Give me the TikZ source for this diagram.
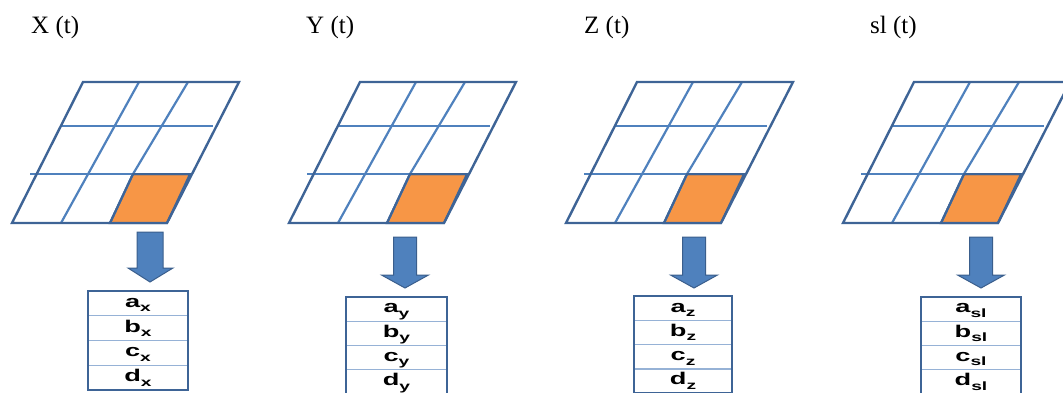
\documentclass[tikz,border=0pt]{standalone}
\usepackage{fontspec}
\setmainfont{Liberation Serif}
\setsansfont{Liberation Sans}
\newfontfamily\cellfont[FakeStretch=1.6]{Liberation Sans Bold}
\definecolor{gridouter}{RGB}{62,100,150}
\definecolor{gridinner}{RGB}{79,129,189}
\definecolor{cellfill}{RGB}{247,150,70}
\definecolor{arrowfill}{RGB}{79,129,189}
\definecolor{arrowline}{RGB}{58,94,140}
\definecolor{rowline}{RGB}{150,178,214}
\tikzset{
  outerline/.style={draw=gridouter, line width=2.4pt, line join=miter},
  innerline/.style={draw=gridinner, line width=2.2pt},
  hotcell/.style={fill=cellfill, draw=gridouter, line width=2pt},
  blockarrow/.style={fill=arrowfill, draw=arrowline, line width=1pt, line join=miter},
  tableframe/.style={draw=gridouter, line width=2pt, fill=white},
  tablerow/.style={draw=rowline, line width=1.4pt},
  celltext/.style={font=\cellfont\fontsize{17}{17}\selectfont, inner sep=0pt, anchor=base},
  titletext/.style={font=\fontsize{25}{25}\selectfont, inner sep=0pt, anchor=base west}
}
\newcommand\mysub[1]{\raisebox{-4.5pt}{\fontsize{12}{12}\selectfont #1}}
\newcommand\mytable[6]{%
  % #1 name, #2 left, #3 top, #4 right, #5 row height, #6 subscript
  \pgfmathsetmacro\tbot{#3+4*#5}%
  \pgfmathsetmacro\tmid{(#2+#4)/2}%
  \node[tableframe, inner sep=0pt, fit={(#2,#3) (#4,\tbot)}] (#1) {};
  \foreach \r in {1,2,3} {
    \pgfmathsetmacro\ry{#3+\r*#5}
    \draw[tablerow] (#2+1,\ry) -- (#4-1,\ry);
  }
  \draw[tableframe, fill=none] (#2,#3) rectangle (#4,\tbot);
  \foreach \l [count=\i from 0] in {a,b,c,d} {
    \pgfmathsetmacro\by{#3+\i*#5+0.66*#5}
    \node[celltext] (#1-\l) at (\tmid,\by) {\l\mysub{#6}};
  }
}
\usetikzlibrary{fit}
\begin{document}
\begin{tikzpicture}[x=1pt,y=-1pt]
\useasboundingbox (0,0) rectangle (1063,392);
\clip (0,0) rectangle (1063,392);

% titles
\node[titletext] (tx) at (31,33) {X (t)};
\node[titletext] (ty) at (306,33) {Y (t)};
\node[titletext] (tz) at (584,33) {Z (t)};
\node[titletext] (tsl) at (870,33) {sl (t)};

% grids
\foreach \o in {0,277,554,831} {
  \begin{scope}[xshift=\o pt]
    \path[hotcell] (110,223) -- (167,223) -- (190,174) -- (133,174) -- cycle;
    \draw[innerline] (62,126) -- (213,126);
    \draw[innerline] (30,174) -- (133,174);
    \draw[innerline] (61,223) -- (139,82);
    \draw[innerline] (110,223) -- (133,174);
    \draw[innerline] (133,174) -- (188,82);
    \draw[hotcell, fill=none] (110,223) -- (133,174) -- (190,174);
    \draw[outerline] (12,223) -- (167,223) -- (239,82) -- (83,82) -- cycle;
  \end{scope}
}

% block arrows
\coordinate (ax) at (150,232);
\draw[blockarrow] (137,232) -- (163,232) -- (163,268) -- (173,268) -- (150,282)
  -- (128,268) -- (137,268) -- cycle;
\foreach \c/\n in {405/ay,694/az,981/asl} {
  \coordinate (\n) at (\c,237);
  \draw[blockarrow] ([xshift=-11.5pt]\n) -- ([xshift=11.5pt]\n)
    -- ++(0,38) -- ++(12,0) -- ([yshift=-51pt]\n) -- ([xshift=-23.5pt,yshift=-38pt]\n)
    -- ([xshift=-11.5pt,yshift=-38pt]\n) -- cycle;
}

% tables
\mytable{tbx}{88}{291}{188}{24.75}{x}
\mytable{tby}{346}{297}{447}{24.2}{y}
\mytable{tbz}{634}{296}{732}{24.3}{z}
\mytable{tbsl}{921}{297}{1021}{24.2}{sl}
\end{tikzpicture}
\end{document}
